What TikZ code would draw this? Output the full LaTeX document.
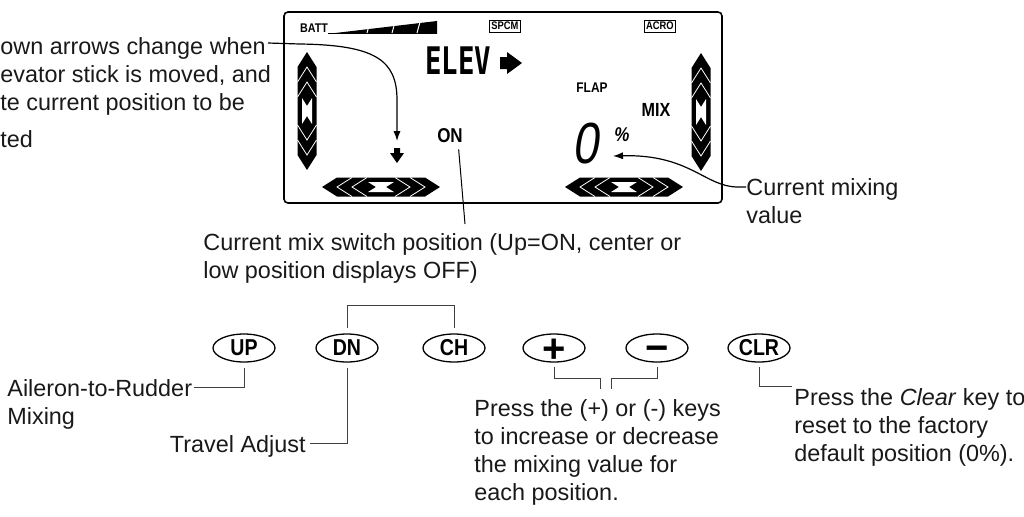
\documentclass[tikz,border=0pt]{standalone}
\usepackage{fontspec}
\setmainfont{Liberation Sans}
\newfontfamily\lcdsans{Liberation Sans}[FakeStretch=0.85]
\newfontfamily\segfont{DejaVu Sans Mono}[FakeStretch=0.72]
\newfontfamily\digitfont{Liberation Sans}[FakeStretch=0.8,FakeSlant=0.15]
\usetikzlibrary{arrows.meta,shapes.geometric}

\begin{document}
\begin{tikzpicture}[x=0.5pt, y=-0.5pt,
  note/.style={align=left, inner sep=0pt, text=black!90, font=\fontsize{11.7pt}{14pt}\selectfont},
  lcd/.style={inner sep=0pt, font=\lcdsans\bfseries\fontsize{#1}{#1}\selectfont},
  tag/.style={draw, line width=0.4pt, inner sep=1pt, font=\lcdsans\bfseries\fontsize{5.5pt}{6pt}\selectfont},
  key/.style={draw, ellipse, line width=0.65pt, minimum width=31pt, minimum height=14pt, inner sep=0pt, font=\lcdsans\bfseries\fontsize{11.5pt}{12pt}\selectfont},
  sign/.style={key, font=\bfseries\fontsize{20pt}{20pt}\selectfont},
  ptr/.style={-{Latex[length=5pt,width=3.6pt]}, line width=0.6pt},
  lead/.style={line width=0.5pt, black!75},
  chevbar/.pic={
    \fill (-59,0) -- (-44,-9.5) -- (44,-9.5) -- (59,0) -- (44,9.5) -- (-44,9.5) -- cycle;
    \foreach \t in {-44,-29} \draw[white, line width=0.4pt] (\t+15,-9.5) -- (\t,0) -- (\t+15,9.5);
    \foreach \t in {44,29} \draw[white, line width=0.4pt] (\t-15,-9.5) -- (\t,0) -- (\t-15,9.5);
    \fill[white] (-13,-5) -- (-5,0) -- (-13,5) -- (13,5) -- (5,0) -- (13,-5) -- cycle;
  }
]
\useasboundingbox (0,0) rectangle (1024,516);

% display
\draw[line width=0.8pt, rounded corners=2pt] (284,12) rectangle (722,203);
\node[lcd=6.3pt] (batt) at (314,28) {BATT};
\fill (331,33.5) -- (437,21) -- (437,33.5) -- cycle;
\draw[line width=0.4pt] (328,33.5) -- (437,33.5);
\foreach \t in {367,392,417} \draw[white, line width=0.5pt] (\t,33) -- (\t+3,22);
\node[tag] (spcm) at (505,26) {SPCM};
\node[tag] (acro) at (660,26) {ACRO};
\node[inner sep=0pt, font=\segfont\bfseries\fontsize{19pt}{19pt}\selectfont] (elev) at (458,61) {ELEV};
\fill (500,57) -- (507,57) -- (507,52) -- (522,63) -- (507,74) -- (507,69) -- (500,69) -- cycle;
\node[lcd=10pt] (onlbl) at (450,136) {ON};
\node[lcd=7pt] (flap) at (592,88) {FLAP};
\node[lcd=9.5pt] (mix) at (656,110) {MIX};
\node[inner sep=0pt, font=\digitfont\fontsize{29pt}{29pt}\selectfont] (zero) at (585,144) {0};
\node[lcd=10pt] (pct) at (622,135) {\itshape\%};
\fill (394,148) -- (400,148) -- (400,153) -- (404,153) -- (397,163) -- (390,153) -- (394,153) -- cycle;
\pic[rotate=90] at (307,111) {chevbar};
\pic[rotate=90] at (701,112) {chevbar};
\pic at (381,187) {chevbar};
\pic at (624,187) {chevbar};

% notes round the display
\node[note, anchor=base west] (dnnote) at (0,147) {own arrows change when\\evator stick is moved, and\\te current position to be\\[4.5pt]ted};
\coordinate (dnstart) at (268,43);
\coordinate (dnmark) at (397,141);
\draw[ptr] (dnstart) -- (300,44) .. controls (375,45) and (397,60) .. (397,100) -- (dnmark);

\node[note, anchor=base west] (swnote) at (203,278) {Current mix switch position (Up=ON, center or\\low position displays OFF)};
\coordinate (swtip) at (465,224);
\draw[line width=0.5pt, shorten <=3pt] ([xshift=-2.5pt]onlbl.south east) -- (swtip);

\node[note, anchor=base west] (mixnote) at (746,223.5) {Current mixing\\value};
\coordinate (mixtip) at (613,156);
\draw[ptr] ([yshift=18.25pt]mixnote.base west) -- ++(-8,0) .. controls (705,187) and (690,154) .. (mixtip);

% keys
\node[key] (up) at (244,348) {UP};
\node[key] (dn) at (347,348) {DN};
\node[key] (ch) at (454,348) {CH};
\node[sign] (plus) at (554,348) {\raisebox{-0.35em}[0pt][0pt]{+}};
\node[sign] (minus) at (657,348) {\raisebox{-0.33em}[0pt][0pt]{−}};
\node[key] (clr) at (759,348) {CLR};

\node[note, anchor=base west] (ailnote) at (7,424) {Aileron-to-Rudder\\Mixing};
\node[note, anchor=base east] (travnote) at (306,452) {Travel Adjust};
\node[note, anchor=base west] (pmnote) at (474,500) {Press the (+) or (-) keys\\to increase or decrease\\the mixing value for\\each position.};
\node[note, anchor=base west] (clrnote) at (794,461) {Press the \textit{Clear} key to\\reset to the factory\\default position (0\%).};

\draw[lead, shorten <=2.5pt, shorten >=2.5pt] (dn.north) -- ++(0,-28) -| (ch.north);
\draw[lead, shorten <=2.5pt] (up.south) |- ([xshift=1pt,yshift=18.5pt]ailnote.base east);
\draw[lead, shorten <=2.5pt] (dn.south) |- ([xshift=2pt,yshift=4.5pt]travnote.base east);
\draw[lead, shorten <=2pt] (plus.south) |- ++(46,16) -- ++(0,10);
\draw[lead, shorten <=2pt] (minus.south) |- ++(-46,16) -- ++(0,10);
\draw[lead, shorten <=2pt] (clr.south) |- ([xshift=-1pt,yshift=37.5pt]clrnote.base west);
\end{tikzpicture}
\end{document}
